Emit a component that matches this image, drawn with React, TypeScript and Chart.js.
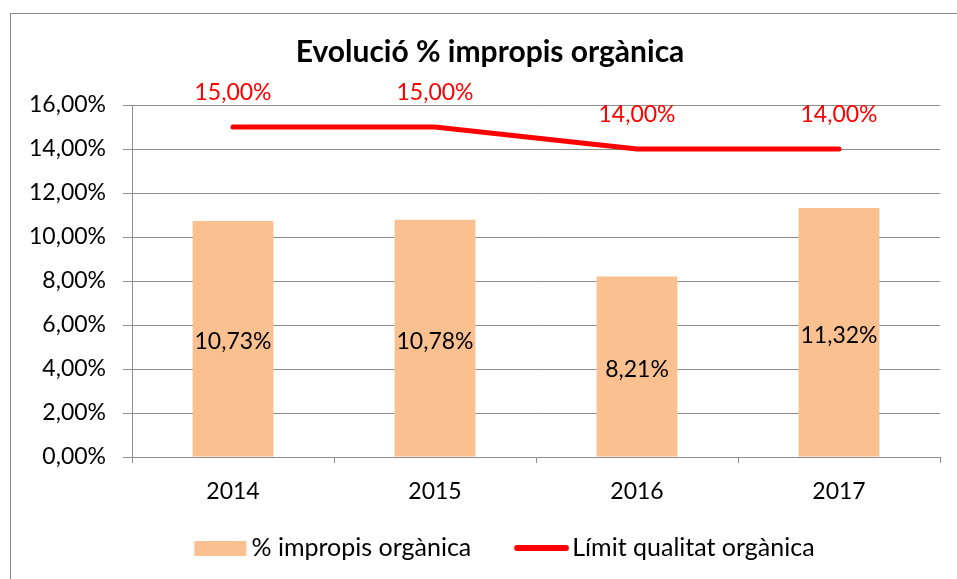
import React, { useEffect, useRef } from 'react';
import { Chart, registerables } from 'chart.js';

Chart.register(...registerables);

const titleText = 'Evolució % impropis orgànica';
const categories = ['2014', '2015', '2016', '2017'];
const impropisValues = [10.73, 10.78, 8.21, 11.32];
const limitValues = [15, 15, 14, 14];
const seriesNames = ['% impropis orgànica', 'Límit qualitat orgànica'];
const yMin = 0;
const yMax = 16;
const yStep = 2;

const BAR_COLOR = '#FAC090';
const LINE_COLOR = '#FF0000';
const GRID_COLOR = '#8e8e8e';
const FONT = 'Lato';

// legend geometry
const LF = 25; // legend font size
const LHALF = LF / 2;
const LPAD_B = 21 - LHALF;
const LPAD = 48.4 - LPAD_B - LF;
const LBOX = 101 - LPAD - LHALF;
const LIMG_W = LBOX + LF - 6;

const fmt = (v: number) => v.toFixed(2).replace('.', ',') + '%';

const valueLabels = {
  id: 'valueLabels',
  afterDatasetsDraw(chart: any) {
    const ctx = chart.ctx;
    ctx.save();
    ctx.font = `23px ${FONT}`;
    ctx.textAlign = 'center';
    ctx.textBaseline = 'middle';
    chart.data.datasets.forEach((ds: any, di: number) => {
      const meta = chart.getDatasetMeta(di);
      meta.data.forEach((el: any, i: number) => {
        const v = ds.data[i] as number;
        if (ds.type === 'bar') {
          ctx.fillStyle = '#000';
          ctx.fillText(fmt(v), el.x, (el.y + el.base) / 2 + 3);
        } else {
          ctx.fillStyle = LINE_COLOR;
          ctx.fillText(fmt(v), el.x, el.y - 34);
        }
      });
    });
    ctx.restore();
  },
};

function makeBoxImage() {
  const c = document.createElement('canvas');
  c.width = Math.ceil(LIMG_W);
  c.height = 15;
  const g = c.getContext('2d')!;
  g.fillStyle = BAR_COLOR;
  g.fillRect(LBOX + LF - 60, 0, 52, 15);
  return c;
}

function makeLineImage() {
  const c = document.createElement('canvas');
  c.width = Math.ceil(LIMG_W);
  c.height = 8;
  const g = c.getContext('2d')!;
  g.strokeStyle = LINE_COLOR;
  g.lineWidth = 6;
  g.lineCap = 'round';
  g.beginPath();
  g.moveTo(LBOX + LF - 61 + 3, 4);
  g.lineTo(LBOX + LF - 6 - 3, 4);
  g.stroke();
  return c;
}

export default function App() {
  const ref = useRef<HTMLCanvasElement>(null);

  useEffect(() => {
    if (!ref.current) return;
    const boxImg = makeBoxImage();
    const lineImg = makeLineImage();
    const chart = new Chart(ref.current, {
      type: 'bar',
      data: {
        labels: categories,
        datasets: [
          {
            type: 'bar',
            label: seriesNames[0],
            data: impropisValues,
            backgroundColor: BAR_COLOR,
            barPercentage: 0.4,
            categoryPercentage: 1,
            order: 2,
          } as any,
          {
            type: 'line',
            label: seriesNames[1],
            data: limitValues,
            borderColor: LINE_COLOR,
            backgroundColor: LINE_COLOR,
            borderWidth: 5,
            borderCapStyle: 'round',
            pointRadius: 0,
            tension: 0,
            order: 1,
          } as any,
        ],
      },
      options: {
        responsive: false,
        animation: false,
        events: [],
        layout: { padding: { left: 24, right: 1, top: 0, bottom: LPAD_B } },
        plugins: {
          tooltip: { enabled: false },
          title: {
            display: true,
            text: titleText,
            color: '#000',
            font: { family: FONT, size: 30, weight: 'bold' },
            padding: { top: 34.5, bottom: 34.5 },
          },
          legend: {
            display: true,
            position: 'bottom',
            labels: {
              usePointStyle: true,
              pointStyleWidth: LBOX,
              boxHeight: 15,
              padding: LPAD,
              color: '#000',
              font: { family: FONT, size: LF },
              generateLabels: () => [
                { text: seriesNames[0], pointStyle: boxImg, fillStyle: BAR_COLOR, strokeStyle: BAR_COLOR, lineWidth: 0, hidden: false, datasetIndex: 0, fontColor: '#000' },
                { text: seriesNames[1], pointStyle: lineImg, fillStyle: LINE_COLOR, strokeStyle: LINE_COLOR, lineWidth: 0, hidden: false, datasetIndex: 1, fontColor: '#000' },
              ] as any,
            },
          },
        },
        scales: {
          x: {
            offset: true,
            grid: {
              display: true,
              drawOnChartArea: false,
              drawTicks: true,
              tickLength: 6,
              color: GRID_COLOR,
              offset: true,
            },
            border: { display: true, color: GRID_COLOR },
            ticks: { color: '#000', padding: 15, font: { family: FONT, size: 23 } },
          },
          y: {
            min: yMin,
            max: yMax,
            grid: { color: GRID_COLOR, tickLength: 9, drawTicks: true },
            border: { display: true, color: GRID_COLOR },
            ticks: {
              stepSize: yStep,
              color: '#000',
              padding: 17,
              font: { family: FONT, size: 23 },
              callback: (v: any) => fmt(Number(v)),
            },
            afterFit: (scale: any) => {
              scale.width = 108;
            },
          },
          y2: {
            type: 'linear',
            position: 'right',
            display: true,
            grid: { display: false, drawTicks: false },
            border: { display: false },
            ticks: { display: false },
            afterFit: (scale: any) => {
              scale.width = 16;
            },
          },
        },
      },
      plugins: [valueLabels],
    });
    return () => chart.destroy();
  }, []);

  return (
    <div style={{ position: 'fixed', left: 0, top: 0, width: 957, height: 579, overflow: 'hidden', background: '#fff' }}>
      <div style={{ position: 'absolute', left: 10, top: 13, width: 1000, height: 1000, border: '1px solid #8a8a8a' }} />
      <canvas ref={ref} width={957} height={579} style={{ position: 'absolute', left: 0, top: 0 }} />
    </div>
  );
}
